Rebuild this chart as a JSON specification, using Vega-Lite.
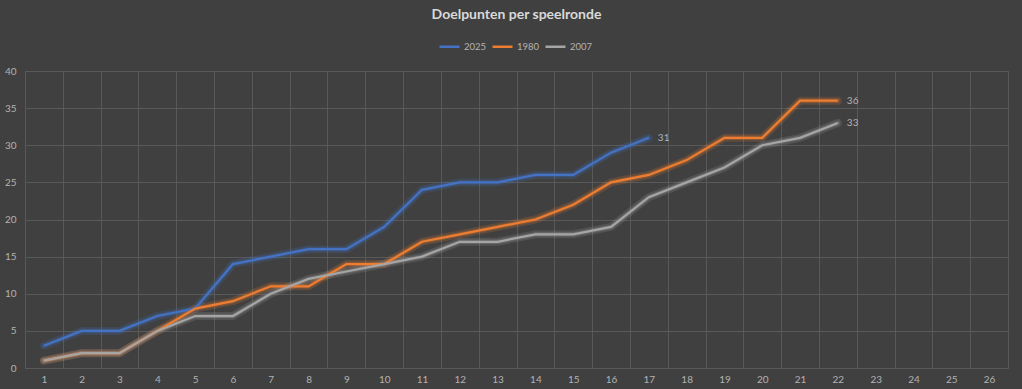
{
  "$schema": "https://vega.github.io/schema/vega-lite/v6.json",
  "width": 983,
  "height": 297,
  "autosize": {"type": "none"},
  "padding": {"left": 25, "top": 71, "right": 14, "bottom": 21},
  "background": "#404040",
  "title": {
    "text": "Doelpunten per speelronde",
    "anchor": "middle",
    "orient": "top",
    "offset": 13,
    "font": "Lato",
    "fontSize": 14,
    "fontWeight": "bold",
    "color": "#d9d9d9"
  },
  "config": {
    "font": "Lato",
    "view": {"stroke": "#595959", "strokeWidth": 1},
    "axis": {
      "labelColor": "#b3b3b3",
      "labelFont": "Lato",
      "labelFontSize": 10,
      "domain": false,
      "ticks": false,
      "gridColor": "#595959",
      "gridWidth": 1,
      "gridOpacity": 1,
      "title": null
    }
  },
  "data": {
    "values": [
      {"serie": "2025", "ronde": 1, "doelpunten": 3},
      {"serie": "2025", "ronde": 2, "doelpunten": 5},
      {"serie": "2025", "ronde": 3, "doelpunten": 5},
      {"serie": "2025", "ronde": 4, "doelpunten": 7},
      {"serie": "2025", "ronde": 5, "doelpunten": 8},
      {"serie": "2025", "ronde": 6, "doelpunten": 14},
      {"serie": "2025", "ronde": 7, "doelpunten": 15},
      {"serie": "2025", "ronde": 8, "doelpunten": 16},
      {"serie": "2025", "ronde": 9, "doelpunten": 16},
      {"serie": "2025", "ronde": 10, "doelpunten": 19},
      {"serie": "2025", "ronde": 11, "doelpunten": 24},
      {"serie": "2025", "ronde": 12, "doelpunten": 25},
      {"serie": "2025", "ronde": 13, "doelpunten": 25},
      {"serie": "2025", "ronde": 14, "doelpunten": 26},
      {"serie": "2025", "ronde": 15, "doelpunten": 26},
      {"serie": "2025", "ronde": 16, "doelpunten": 29},
      {"serie": "2025", "ronde": 17, "doelpunten": 31},
      {"serie": "1980", "ronde": 1, "doelpunten": 1},
      {"serie": "1980", "ronde": 2, "doelpunten": 2},
      {"serie": "1980", "ronde": 3, "doelpunten": 2},
      {"serie": "1980", "ronde": 4, "doelpunten": 5},
      {"serie": "1980", "ronde": 5, "doelpunten": 8},
      {"serie": "1980", "ronde": 6, "doelpunten": 9},
      {"serie": "1980", "ronde": 7, "doelpunten": 11},
      {"serie": "1980", "ronde": 8, "doelpunten": 11},
      {"serie": "1980", "ronde": 9, "doelpunten": 14},
      {"serie": "1980", "ronde": 10, "doelpunten": 14},
      {"serie": "1980", "ronde": 11, "doelpunten": 17},
      {"serie": "1980", "ronde": 12, "doelpunten": 18},
      {"serie": "1980", "ronde": 13, "doelpunten": 19},
      {"serie": "1980", "ronde": 14, "doelpunten": 20},
      {"serie": "1980", "ronde": 15, "doelpunten": 22},
      {"serie": "1980", "ronde": 16, "doelpunten": 25},
      {"serie": "1980", "ronde": 17, "doelpunten": 26},
      {"serie": "1980", "ronde": 18, "doelpunten": 28},
      {"serie": "1980", "ronde": 19, "doelpunten": 31},
      {"serie": "1980", "ronde": 20, "doelpunten": 31},
      {"serie": "1980", "ronde": 21, "doelpunten": 36},
      {"serie": "1980", "ronde": 22, "doelpunten": 36},
      {"serie": "2007", "ronde": 1, "doelpunten": 1},
      {"serie": "2007", "ronde": 2, "doelpunten": 2},
      {"serie": "2007", "ronde": 3, "doelpunten": 2},
      {"serie": "2007", "ronde": 4, "doelpunten": 5},
      {"serie": "2007", "ronde": 5, "doelpunten": 7},
      {"serie": "2007", "ronde": 6, "doelpunten": 7},
      {"serie": "2007", "ronde": 7, "doelpunten": 10},
      {"serie": "2007", "ronde": 8, "doelpunten": 12},
      {"serie": "2007", "ronde": 9, "doelpunten": 13},
      {"serie": "2007", "ronde": 10, "doelpunten": 14},
      {"serie": "2007", "ronde": 11, "doelpunten": 15},
      {"serie": "2007", "ronde": 12, "doelpunten": 17},
      {"serie": "2007", "ronde": 13, "doelpunten": 17},
      {"serie": "2007", "ronde": 14, "doelpunten": 18},
      {"serie": "2007", "ronde": 15, "doelpunten": 18},
      {"serie": "2007", "ronde": 16, "doelpunten": 19},
      {"serie": "2007", "ronde": 17, "doelpunten": 23},
      {"serie": "2007", "ronde": 18, "doelpunten": 25},
      {"serie": "2007", "ronde": 19, "doelpunten": 27},
      {"serie": "2007", "ronde": 20, "doelpunten": 30},
      {"serie": "2007", "ronde": 21, "doelpunten": 31},
      {"serie": "2007", "ronde": 22, "doelpunten": 33}
    ]
  },
  "encoding": {
    "x": {
      "field": "ronde",
      "type": "ordinal",
      "bandPosition": 0.5,
      "scale": {
        "type": "band",
        "domain": [1,2,3,4,5,6,7,8,9,10,11,12,13,14,15,16,17,18,19,20,21,22,23,24,25,26],
        "paddingInner": 0,
        "paddingOuter": 0
      },
      "axis": {"labelAngle": 0, "tickBand": "extent", "grid": true, "labelPadding": 6}
    },
    "y": {
      "field": "doelpunten",
      "type": "quantitative",
      "scale": {"domain": [0, 40], "nice": false},
      "axis": {"values": [0, 5, 10, 15, 20, 25, 30, 35, 40], "labelPadding": 9, "grid": true}
    },
    "color": {
      "field": "serie",
      "type": "nominal",
      "sort": ["2025", "1980", "2007"],
      "scale": {"domain": ["2025", "1980", "2007"], "range": ["#4472C4", "#ED7D31", "#A5A5A5"]},
      "legend": {
        "title": null,
        "orient": "none",
        "direction": "horizontal",
        "legendX": 413,
        "legendY": -36,
        "symbolType": "stroke",
        "symbolSize": 400,
        "symbolStrokeWidth": 2.5,
        "symbolOpacity": 1,
        "labelColor": "#b3b3b3",
        "labelFont": "Lato",
        "labelFontSize": 9.5,
        "labelOffset": 3,
        "columnPadding": 0
      }
    }
  },
  "layer": [
    {
      "mark": {"type": "line", "strokeWidth": 8, "opacity": 0.18, "strokeJoin": "round", "strokeCap": "round"}
    },
    {
      "mark": {"type": "line", "strokeWidth": 4.5, "opacity": 0.25, "strokeJoin": "round", "strokeCap": "round"}
    },
    {
      "mark": {"type": "line", "strokeWidth": 2.2, "strokeJoin": "miter"}
    },
    {
      "transform": [
        {"filter": "(datum.serie == '2025' && datum.ronde == 17) || (datum.serie != '2025' && datum.ronde == 22)"}
      ],
      "mark": {"type": "text", "align": "left", "dx": 9, "fontSize": 10, "font": "Lato", "color": "#b3b3b3"},
      "encoding": {
        "text": {"field": "doelpunten", "type": "quantitative"},
        "color": {"value": "#b3b3b3"}
      }
    }
  ]
}
